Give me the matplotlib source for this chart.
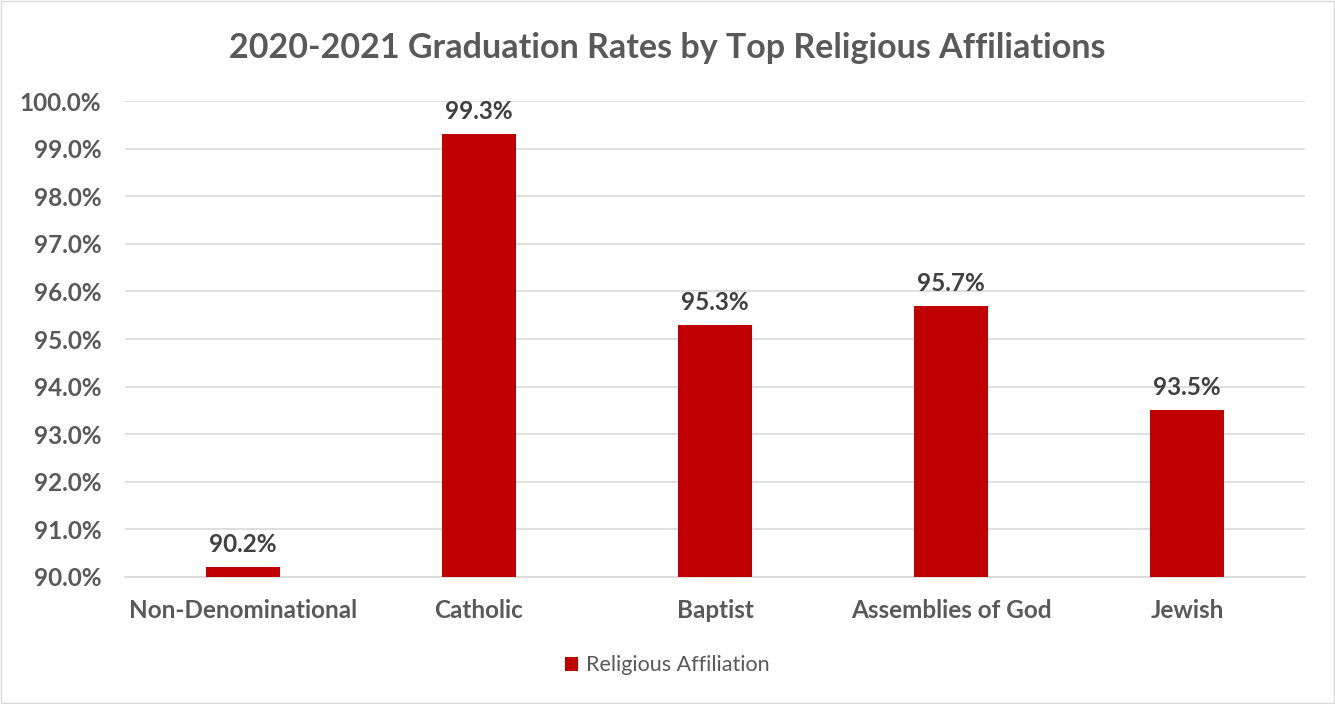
import matplotlib.pyplot as plt
import numpy as np

plt.rcParams['font.family'] = ['Lato', 'DejaVu Sans']

# data
categories = ["Non-Denominational", "Catholic", "Baptist", "Assemblies of God", "Jewish"]
rates = [90.2, 99.3, 95.3, 95.7, 93.5]
series_name = "Religious Affiliation"

text_color = "#595959"
label_color = "#404040"
bar_color = "#C00000"

fig = plt.figure(figsize=(13.35, 7.04), dpi=100)
ax = fig.add_axes([0.0936, 0.1804, 0.884, 0.676])

x = np.arange(len(categories))
bars = ax.bar(x, rates, width=0.31, color=bar_color, label=series_name, zorder=3)

for xi, v in zip(x, rates):
    ax.annotate(f"{v:.1f}%", (xi, v), xytext=(0, 8), textcoords="offset points",
                ha="center", va="bottom", fontsize=17.5, fontweight="bold", color=label_color)

ax.set_ylim(90, 100)
ax.set_xlim(-0.5, len(categories) - 0.5)
ax.set_yticks(np.arange(90, 100.1, 1))
ax.set_yticklabels([f"{t:.1f}%" for t in np.arange(90, 100.1, 1)])
ax.set_xticks(x)
ax.set_xticklabels(categories)
ax.tick_params(axis="both", length=0, labelsize=17.5, labelcolor=text_color)
ax.tick_params(axis="y", pad=17)
ax.tick_params(axis="x", pad=16)
for lbl in ax.get_xticklabels() + ax.get_yticklabels():
    lbl.set_fontweight("bold")

ax.yaxis.grid(True, color="#D9D9D9", linewidth=1.2, zorder=0)
for s in ["top", "right", "left"]:
    ax.spines[s].set_visible(False)
ax.spines["bottom"].set_color("#D9D9D9")
ax.spines["bottom"].set_linewidth(1.2)

fig.suptitle("2020-2021 Graduation Rates by Top Religious Affiliations", x=0.5, y=0.955,
             fontsize=24.5, fontweight="bold", color=text_color)

fig.legend(loc="center", bbox_to_anchor=(0.5, 0.055), frameon=False, fontsize=15.5,
           handlelength=0.6, handleheight=0.6, handletextpad=0.4, labelcolor=text_color)

fig.patches.append(plt.Rectangle((0.001, 0.001), 0.998, 0.998, transform=fig.transFigure,
                                 fill=False, edgecolor="#D9D9D9", linewidth=1))

fig.savefig("out.png", dpi=100)
